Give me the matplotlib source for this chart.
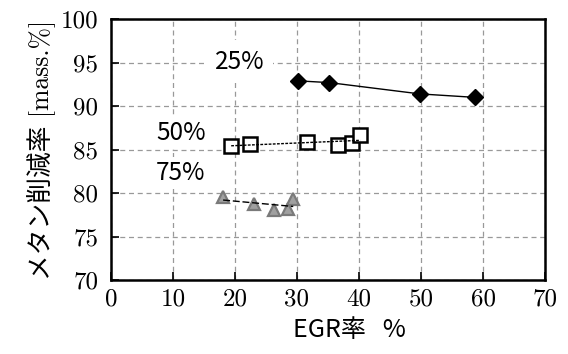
import numpy as np
import matplotlib
matplotlib.use('Agg')
import matplotlib.pyplot as plt

# データ (EGR率 %, メタン削減率 mass.%)
egr_25 = [30.2, 35.2, 49.8, 58.7]
ch4_25 = [92.9, 92.7, 91.4, 91.0]

egr_50 = [19.4, 22.4, 31.6, 36.6, 38.9, 40.2]
ch4_50 = [85.45, 85.6, 85.85, 85.5, 85.7, 86.7]

egr_75 = [18.1, 23.0, 26.3, 28.5, 29.4]
ch4_75 = [79.5, 78.7, 78.0, 78.2, 79.3]

xticks = [0, 10, 20, 30, 40, 50, 60, 70]
yticks = [70, 75, 80, 85, 90, 95, 100]

fig = plt.figure(figsize=(5.68, 3.54), dpi=100)
ax = fig.add_axes([0.195, 0.209, 0.765, 0.737])

# 25%: 折れ線
ax.plot(egr_25, ch4_25, color='black', lw=1, marker='D', ms=8,
        mfc='black', mec='black', zorder=4)

# 50%, 75%: 近似直線
p50 = np.polyfit(egr_50, ch4_50, 1)
x50 = np.array([min(egr_50), max(egr_50)])
ax.plot(x50, np.polyval(p50, x50), color='black', lw=1, ls=(0, (2, 1)), zorder=3)
ax.plot(egr_50, ch4_50, ls='none', marker='s', ms=9.5, mfc='white',
        mec='black', mew=1.8, zorder=2)

p75 = np.polyfit(egr_75, ch4_75, 1)
x75 = np.array([min(egr_75), max(egr_75)])
ax.plot(egr_75, ch4_75, ls='none', marker='^', ms=9, mfc='#a0a0a0',
        mec='#7a7a7a', mew=1.6, zorder=2)
ax.plot(x75, np.polyval(p75, x75), color='black', lw=1, ls=(0, (5, 2)), zorder=3)

# ラベル
lab_font = ['Noto Sans CJK JP', 'DejaVu Sans']
ax.text(20.8, 95.1, '25%', fontsize=17.5, family=lab_font, ha='center', va='center',
        bbox=dict(facecolor='white', edgecolor='none', pad=6), zorder=1)
ax.text(11.3, 86.9, '50%', fontsize=17.5, family=lab_font, ha='center', va='center',
        bbox=dict(facecolor='white', edgecolor='none', pad=2), zorder=1)
ax.text(11.3, 82.3, '75%', fontsize=17.5, family=lab_font, ha='center', va='center',
        bbox=dict(facecolor='white', edgecolor='none', pad=2), zorder=1)

ax.set_xlim(0, 70)
ax.set_ylim(70, 100)
ax.set_xticks(xticks)
ax.set_yticks(yticks)
ax.set_xticklabels([str(v) for v in xticks], family='cmr10', fontsize=18)
ax.set_yticklabels([str(v) for v in yticks], family='cmr10', fontsize=18)
ax.tick_params(direction='in', length=6, width=1.2)
ax.tick_params(axis='x', pad=6)
ax.tick_params(axis='y', pad=9)

ax.grid(True, color='#999999', ls=(0, (4, 3)), lw=0.9)
ax.set_axisbelow(True)
for s in ax.spines.values():
    s.set_linewidth(1.8)

ax.set_xlabel('EGR率   %', family=lab_font, fontsize=18, labelpad=5, x=0.55)
ax.set_ylabel('メタン削減率 [mass.%]', family=['cmr10', 'Noto Sans CJK JP'],
              fontsize=18.5, labelpad=3)

plt.savefig('out.png', dpi=100)
plt.close()
